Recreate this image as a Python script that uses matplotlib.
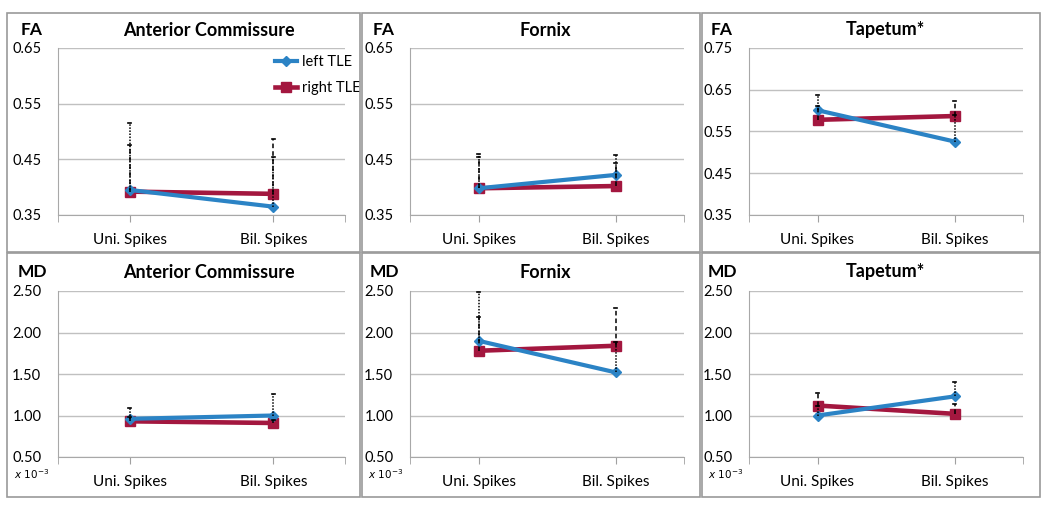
import numpy as np
import matplotlib.pyplot as plt
from matplotlib.patches import Rectangle

plt.rcParams['font.family'] = ['Lato', 'DejaVu Sans']

# data
groups = ["Uni. Spikes", "Bil. Spikes"]
regions = ["Anterior Commissure", "Fornix", "Tapetum*"]

fa_left = [[0.395, 0.365], [0.398, 0.422], [0.601, 0.526]]
fa_right = [[0.392, 0.388], [0.398, 0.402], [0.578, 0.587]]
fa_left_top = [[0.515, 0.455], [0.460, 0.458], [0.638, 0.590]]
fa_right_top = [[0.476, 0.486], [0.455, 0.444], [0.612, 0.622]]

md_left = [[0.96, 1.00], [1.90, 1.52], [1.00, 1.23]]
md_right = [[0.93, 0.91], [1.78, 1.84], [1.12, 1.02]]
md_left_top = [[1.09, 1.26], [2.49, 1.89], [1.12, 1.40]]
md_right_top = [[0.98, 0.95], [2.19, 2.30], [1.27, 1.14]]

fa_ylims = [(0.35, 0.65), (0.35, 0.65), (0.35, 0.75)]
fa_ticks = [[0.35, 0.45, 0.55, 0.65], [0.35, 0.45, 0.55, 0.65], [0.35, 0.45, 0.55, 0.65, 0.75]]
md_ticks = [0.50, 1.00, 1.50, 2.00, 2.50]

blue = "#2B83C5"
red = "#A3173F"

W, H = 1050, 507
fig = plt.figure(figsize=(W / 100, H / 100), dpi=100)

# panel frames (pixels)
frames_x = [(7, 360), (362, 700), (702, 1040)]
frames_y = [(13, 252), (253, 497)]
for fy in frames_y:
    for fx in frames_x:
        fig.patches.append(Rectangle((fx[0] / W, 1 - fy[1] / H), (fx[1] - fx[0]) / W,
                                     (fy[1] - fy[0]) / H, transform=fig.transFigure,
                                     fill=False, edgecolor="#9a9a9a", linewidth=1.2))

axes_x = [(58, 345), (410, 684), (749, 1023)]
axes_y = [(48, 215), (291, 457)]
label_x = [32, 384, 722]
title_x = [209, 545, 885]
sci_x = [14, 368, 708]


def draw(ax, left, right, left_top, right_top):
    x = np.arange(2)
    ax.plot(x, left, color=blue, lw=3, marker="D", ms=5.5, zorder=4, label="left TLE")
    ax.plot(x, right, color=red, lw=3.3, marker="s", ms=7.5, zorder=3, label="right TLE")
    for vals, tops, ls in [(left, left_top, (0, (1, 1))), (right, right_top, (0, (3, 2)))]:
        for xi, v, t in zip(x, vals, tops):
            ax.plot([xi, xi], [v, t], color="black", lw=1.1, ls=ls, zorder=5)
            ax.plot([xi - 0.012, xi + 0.012], [t, t], color="black", lw=1.2, zorder=5)


for row in range(2):
    for col in range(3):
        x0, x1 = axes_x[col]
        y0, y1 = axes_y[row]
        ax = fig.add_axes([x0 / W, 1 - y1 / H, (x1 - x0) / W, (y1 - y0) / H])
        if row == 0:
            draw(ax, fa_left[col], fa_right[col], fa_left_top[col], fa_right_top[col])
            ax.set_ylim(*fa_ylims[col])
            ax.set_yticks(fa_ticks[col])
            ax.set_yticklabels([f"{t:.2f}" for t in fa_ticks[col]])
            lab = "FA"
        else:
            draw(ax, md_left[col], md_right[col], md_left_top[col], md_right_top[col])
            ax.set_ylim(0.5, 2.5)
            ax.set_yticks(md_ticks)
            ax.set_yticklabels([f"{t:.2f}" for t in md_ticks])
            lab = "MD"
            fig.text(sci_x[col] / W, 1 - 474 / H, r"$x\ 10^{-3}$", fontsize=7.5,
                     style="italic", va="center", ha="left")
        ax.set_xlim(-0.5, 1.5)
        ax.set_xticks([0, 1])
        ax.set_xticklabels(groups, fontsize=11)
        ax.set_xticks([-0.5, 1.5], minor=True)
        ax.tick_params(axis="x", which="both", length=5, color="#a0a0a0", pad=8)
        ax.tick_params(axis="y", length=0, labelsize=10.5, pad=12)
        ax.grid(axis="y", color="#c0c0c0", lw=1)
        ax.set_axisbelow(True)
        for s in ["top", "right"]:
            ax.spines[s].set_visible(False)
        for s in ["left", "bottom"]:
            ax.spines[s].set_color("#a8a8a8")
        ty = 30 if row == 0 else 272
        fig.text(label_x[col] / W, 1 - ty / H, lab, fontsize=12.5, fontweight="bold",
                 ha="center", va="center")
        fig.text(title_x[col] / W, 1 - ty / H, regions[col], fontsize=13,
                 fontweight="bold", ha="center", va="center")
        if row == 0 and col == 0:
            ax.legend(loc="upper left", bbox_to_anchor=(268 / W, 1 - 48 / H),
                      bbox_transform=fig.transFigure, frameon=False, fontsize=10.5,
                      handlelength=1.5, handletextpad=0.3, labelspacing=0.8,
                      borderpad=0, markerscale=0.9)

fig.savefig("out.png", dpi=100)
